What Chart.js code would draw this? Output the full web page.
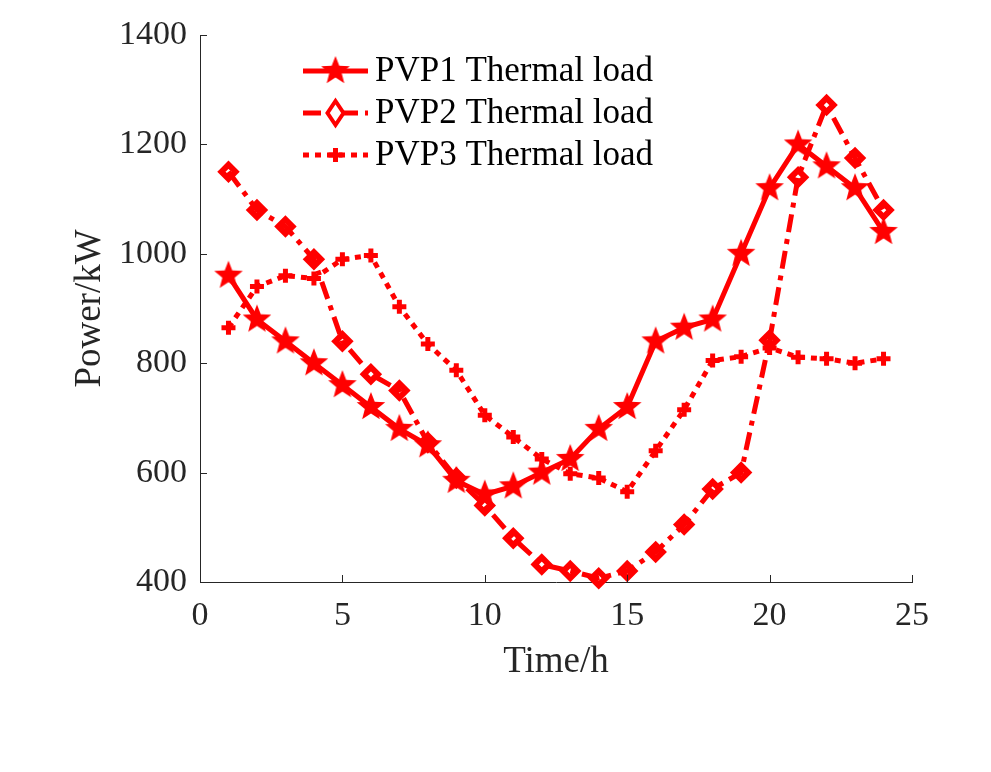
<!DOCTYPE html>
<html>
<head>
<meta charset="utf-8">
<script src="https://cdn.jsdelivr.net/npm/chart.js@4.4.0/dist/chart.umd.min.js"></script>
<style>
  html, body { margin: 0; padding: 0; background: #fff; }
  #wrap { width: 991px; height: 772px; }
</style>
</head>
<body>
<div id="wrap"><canvas id="chart" width="991" height="772"></canvas></div>
<script>
// data
const hours = [1, 2, 3, 4, 5, 6, 7, 8, 9, 10, 11, 12, 13, 14, 15, 16, 17, 18, 19, 20, 21, 22, 23, 24];
const pvp1Load = [960, 880, 840, 800, 760, 720, 680, 650, 585, 560, 575, 600, 625, 680, 720, 840, 865, 880, 1000, 1120, 1200, 1160, 1120, 1040];
const pvp2Load = [1150, 1080, 1050, 990, 840, 780, 750, 655, 590, 540, 480, 432, 420, 407, 420, 455, 505, 570, 600, 842, 1140, 1272, 1175, 1080];
const pvp3Load = [865, 940, 960, 955, 990, 997, 903, 835, 787, 705, 665, 625, 598, 590, 565, 640, 715, 805, 812, 828, 811, 808, 800, 808];
const seriesNames = ['PVP1 Thermal load', 'PVP2 Thermal load', 'PVP3 Thermal load'];
const xTicks = [0, 5, 10, 15, 20, 25];
const yTicks = [400, 600, 800, 1000, 1200, 1400];

const RED = '#ff0000';
const AXIS = '#262626';
const FONT = "'Times New Roman', 'Liberation Serif', serif";

// filled pentagram marker (Chart.js 'star' is only an asterisk)
function makeStar(outer) {
  const c = document.createElement('canvas');
  const s = Math.ceil(outer * 2 + 2);
  c.width = s; c.height = s;
  const g = c.getContext('2d');
  const inner = outer * 0.43;
  g.beginPath();
  for (let i = 0; i < 10; i++) {
    const r = i % 2 === 0 ? outer : inner;
    const a = -Math.PI / 2 + i * Math.PI / 5;
    const px = s / 2 + r * Math.cos(a), py = s / 2 + r * Math.sin(a);
    if (i === 0) g.moveTo(px, py); else g.lineTo(px, py);
  }
  g.closePath();
  g.fillStyle = RED;
  g.fill();
  return c;
}
const starImg = makeStar(15);

const toXY = vals => vals.map((v, i) => ({ x: hours[i], y: v }));

const datasets = [
  {
    label: seriesNames[0],
    data: toXY(pvp1Load),
    borderColor: RED, borderWidth: 5,
    pointStyle: starImg, pointRadius: 15,
    clip: false, order: 3
  },
  {
    label: seriesNames[1],
    data: toXY(pvp2Load),
    borderColor: RED, borderWidth: 5, borderDash: [18, 7, 5, 7],
    pointStyle: 'rectRot', pointRadius: 7,
    pointBackgroundColor: 'rgba(0,0,0,0)', pointBorderColor: RED, pointBorderWidth: 6,
    clip: false, order: 2
  },
  {
    label: seriesNames[2],
    data: toXY(pvp3Load),
    borderColor: RED, borderWidth: 5, borderDash: [6, 6],
    pointStyle: 'cross', pointRadius: 7,
    pointBorderColor: RED, pointBorderWidth: 5,
    clip: false, order: 1
  }
];

function drawMarker(ctx, i, x, y) {
  ctx.save();
  ctx.setLineDash([]);
  ctx.strokeStyle = RED;
  ctx.fillStyle = RED;
  if (i === 0) {
    ctx.drawImage(starImg, x - starImg.width / 2, y - starImg.height / 2);
  } else if (i === 1) {
    ctx.lineWidth = 4;
    ctx.beginPath();
    ctx.moveTo(x, y - 12); ctx.lineTo(x + 8, y); ctx.lineTo(x, y + 12); ctx.lineTo(x - 8, y);
    ctx.closePath();
    ctx.fillStyle = '#fff';
    ctx.fill();
    ctx.stroke();
  } else {
    ctx.lineWidth = 5;
    ctx.beginPath();
    ctx.moveTo(x - 7, y); ctx.lineTo(x + 7, y);
    ctx.moveTo(x, y - 7); ctx.lineTo(x, y + 7);
    ctx.stroke();
  }
  ctx.restore();
}

// MATLAB-like inward ticks and the legend box
const extras = {
  id: 'extras',
  afterDraw(chart) {
    const ctx = chart.ctx;
    const xs = chart.scales.x, ys = chart.scales.y;
    const area = chart.chartArea;
    ctx.save();
    ctx.strokeStyle = AXIS;
    ctx.lineWidth = 1;
    ctx.beginPath();
    xTicks.forEach(t => {
      const px = Math.round(xs.getPixelForValue(t)) + 0.5;
      ctx.moveTo(px, area.bottom); ctx.lineTo(px, area.bottom - 7);
    });
    yTicks.forEach(t => {
      const py = Math.round(ys.getPixelForValue(t)) + 0.5;
      ctx.moveTo(area.left, py); ctx.lineTo(area.left + 7, py);
    });
    ctx.stroke();

    const lx0 = 303, lx1 = 368, ly0 = 71, dy = 42;
    chart.data.datasets.forEach((ds, i) => {
      const y = ly0 + i * dy;
      ctx.save();
      ctx.strokeStyle = RED;
      ctx.lineWidth = 5;
      ctx.setLineDash(ds.borderDash || []);
      ctx.beginPath();
      ctx.moveTo(lx0, y); ctx.lineTo(lx1, y);
      ctx.stroke();
      ctx.restore();
      drawMarker(ctx, i, (lx0 + lx1) / 2, y);
      ctx.fillStyle = '#000';
      ctx.font = '35px ' + FONT;
      ctx.textBaseline = 'middle';
      ctx.textAlign = 'left';
      ctx.fillText(ds.label, 375, y + 1);
    });
    ctx.restore();
  }
};

new Chart(document.getElementById('chart'), {
  type: 'line',
  data: { datasets },
  options: {
    responsive: false,
    animation: false,
    devicePixelRatio: 1,
    layout: { padding: { left: 0, top: 35, right: 79, bottom: 0 } },
    plugins: { legend: { display: false }, tooltip: { enabled: false } },
    elements: { line: { tension: 0, fill: false } },
    scales: {
      x: {
        type: 'linear', min: 0, max: 25,
        afterBuildTicks: s => { s.ticks = xTicks.map(v => ({ value: v })); },
        afterFit: s => { s.height = 190; },
        grid: { display: true, drawOnChartArea: false, drawTicks: false },
        border: { display: true, color: AXIS, width: 1 },
        ticks: { color: AXIS, padding: 14, maxRotation: 0, callback: v => String(v), font: { family: FONT, size: 34 } },
        title: { display: true, text: 'Time/h', color: AXIS, padding: { top: 0, bottom: 88 }, font: { family: FONT, size: 37 } }
      },
      y: {
        type: 'linear', min: 400, max: 1400,
        afterBuildTicks: s => { s.ticks = yTicks.map(v => ({ value: v })); },
        afterFit: s => { s.width = 200; },
        grid: { display: true, drawOnChartArea: false, drawTicks: false },
        border: { display: true, color: AXIS, width: 1 },
        ticks: { color: AXIS, padding: 13, callback: v => String(v), font: { family: FONT, size: 34 } },
        title: { display: true, text: 'Power/kW', color: AXIS, padding: { top: 68, bottom: 0 }, font: { family: FONT, size: 37 } }
      }
    }
  },
  plugins: [extras]
});
</script>
</body>
</html>
